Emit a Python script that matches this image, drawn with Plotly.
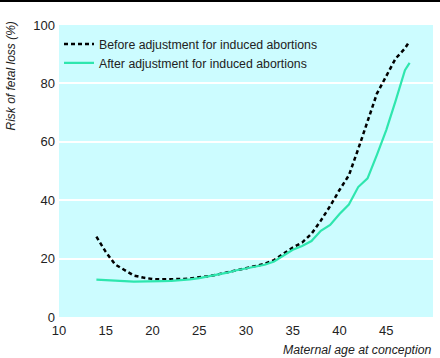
import plotly.graph_objects as go

ages = [14, 15, 16, 17, 18, 19, 20, 21, 22, 23, 24, 25, 26, 27, 28, 29, 30,
        31, 32, 33, 34, 35, 36, 37, 38, 39, 40, 41, 42, 43, 44, 45, 46, 47, 47.5]
before = [27.5, 22.3, 18.0, 16.0, 14.2, 13.5, 13.0, 12.9, 12.9, 13.0, 13.2, 13.5,
          14.0, 14.6, 15.2, 16.0, 16.7, 17.4, 18.2, 19.5, 21.8, 23.8, 25.5, 28.5,
          33.0, 38.0, 43.5, 48.5, 57.5, 67.0, 76.5, 82.5, 88.5, 92.0, 94.5]
after = [12.8, 12.7, 12.5, 12.3, 12.1, 12.1, 12.2, 12.3, 12.4, 12.6, 12.9, 13.3,
         13.9, 14.5, 15.2, 16.0, 16.7, 17.3, 17.9, 19.0, 21.0, 23.0, 24.3, 26.0,
         29.5, 31.5, 35.3, 38.5, 44.5, 47.5, 55.5, 64.0, 74.0, 84.5, 87.0]

x_ticks = [10, 15, 20, 25, 30, 35, 40, 45, 50]
y_ticks = [0, 20, 40, 60, 80, 100]

FONT = "Liberation Sans, Arial, sans-serif"

fig = go.Figure()
fig.add_trace(go.Scatter(x=ages, y=before, mode="lines",
                         name="Before adjustment for induced abortions",
                         line=dict(color="black", width=2.5, dash="4px,3px")))
fig.add_trace(go.Scatter(x=ages, y=after, mode="lines",
                         name="After adjustment for induced abortions",
                         line=dict(color="#2ee6ae", width=2.2)))

W, H = 440, 358
L, R, T, B = 59, 7, 25, 41
pw, ph = W - L - R, H - T - B

fig.update_layout(
    width=W, height=H,
    margin=dict(l=L, r=R, t=T, b=B, pad=0),
    paper_bgcolor="white",
    plot_bgcolor="#ccfcff",
    font=dict(family=FONT, size=13, color="#222222"),
    showlegend=True,
    legend=dict(x=0.0, y=0.985, xanchor="left", yanchor="top",
                bgcolor="rgba(0,0,0,0)", font=dict(size=12.3, family=FONT),
                tracegroupgap=0, itemwidth=30),
    xaxis=dict(range=[10, 50], tickvals=x_ticks, showgrid=False, zeroline=False,
               showline=False, ticks="", tickfont=dict(size=13), ticklabelstandoff=4),
    yaxis=dict(range=[0, 100], tickvals=y_ticks, showgrid=True, gridcolor="white",
               gridwidth=1.5, zeroline=False, showline=False, ticks="",
               tickfont=dict(size=13), ticklabelstandoff=3),
    shapes=[dict(type="line", xref="paper", yref="paper",
                 x0=-L / pw, x1=1 + R / pw, y0=1 + (T - 1) / ph, y1=1 + (T - 1) / ph,
                 line=dict(color="black", width=2))],
    annotations=[
        dict(text="<i>Risk of fetal loss (%)</i>", textangle=-90, xref="paper", yref="paper",
             x=-(L - 10) / pw, y=1 + 5 / ph, xanchor="center", yanchor="top",
             showarrow=False, font=dict(size=12, family=FONT)),
        dict(text="<i>Maternal age at conception</i>", xref="paper", yref="paper",
             x=1 + 1 / pw, y=-(350 - 317) / ph, xanchor="right", yanchor="middle",
             showarrow=False, font=dict(size=12.3, family=FONT)),
    ],
)

fig.write_html("out.html", config={"displayModeBar": False},
               post_script="document.body.style.margin='0';")
